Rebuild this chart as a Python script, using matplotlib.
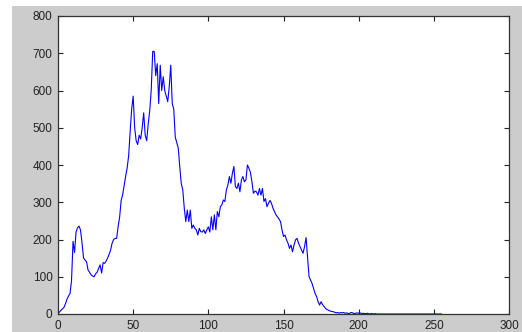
import numpy as np
import matplotlib
matplotlib.use("Agg")
import matplotlib.pyplot as plt
from matplotlib.patches import Rectangle

# histogram counts, bins 0..255
counts_lo = [2, 5, 10, 14, 18, 28, 40, 48, 55, 90,
             195, 165, 220, 232, 236, 225, 190, 150, 145, 140,
             118, 112, 105, 102, 100, 108, 112, 122, 132, 110,
             138, 136, 142, 150, 160, 172, 190, 200, 203, 203,
             235, 260, 305, 320, 345, 370, 392, 425, 490, 550,
             585, 500, 465, 455, 480, 470, 500, 540, 480, 465,
             510, 545, 600, 705, 705, 640, 672, 565, 668, 600,
             637, 600, 585, 570, 610, 668, 565, 550, 475, 460]
counts_mid = [445, 395, 350, 333, 284, 248, 279, 248, 279, 230,
              239, 230, 226, 212, 230, 221, 220, 226, 216, 226,
              234, 220, 261, 226, 266, 226, 275, 261, 288, 293,
              306, 302, 333, 346, 369, 351, 378, 396, 342, 337,
              351, 328, 360, 369, 355, 360, 400, 391, 380, 355,
              324, 330, 328, 319, 337, 319, 337, 302, 310, 288,
              297, 305, 297, 284, 275, 266, 261, 255, 248, 226,
              208, 212, 199, 190, 176, 185, 167, 185, 199, 203,
              190, 181, 172, 163, 181, 205, 154, 100, 91, 82]
counts_hi = [69, 55, 47, 33, 24, 33, 25, 20, 15, 12,
             10, 8, 7, 6, 5, 3, 4, 2, 4, 3,
             4, 2, 3, 1, 2, 4, 3, 1, 2, 3,
             2, 3, 1, 2, 1, 1, 2, 0, 1, 1,
             0, 1, 0]
counts = counts_lo + counts_mid + counts_hi
counts = counts + [0] * (256 - len(counts))
bins = np.arange(256)

xticks = [0, 50, 100, 150, 200, 250, 300]
yticks = [0, 100, 200, 300, 400, 500, 600, 700, 800]

W, H = 522, 332
fig = plt.figure(figsize=(W / 100, H / 100), dpi=100)
fig.patch.set_facecolor("white")
# grey MATLAB-style figure area (white strip on the left and top)
fig.patches.append(Rectangle((12 / W, 0), 1 - 12 / W, 1 - 6 / H,
                             transform=fig.transFigure, facecolor="#cccccc",
                             edgecolor="none", zorder=-10))

ax = fig.add_axes([58 / W, 18 / H, (509 - 58) / W, (314 - 16) / H])
ax.set_facecolor("white")
ax.plot(bins, counts, color="#0000ff", linewidth=0.8)

ax.set_xlim(0, 300)
ax.set_ylim(0, 800)
ax.set_xticks(xticks)
ax.set_yticks(yticks)
ax.tick_params(direction="in", length=3.5, width=0.8, top=True, right=True,
               labelsize=8.5, colors="#222222", pad=4)
for lab in ax.get_xticklabels() + ax.get_yticklabels():
    lab.set_family("Liberation Sans")
for sp in ax.spines.values():
    sp.set_color("#333333")
    sp.set_linewidth(0.9)

fig.savefig("out.png", dpi=100, facecolor=fig.get_facecolor())
